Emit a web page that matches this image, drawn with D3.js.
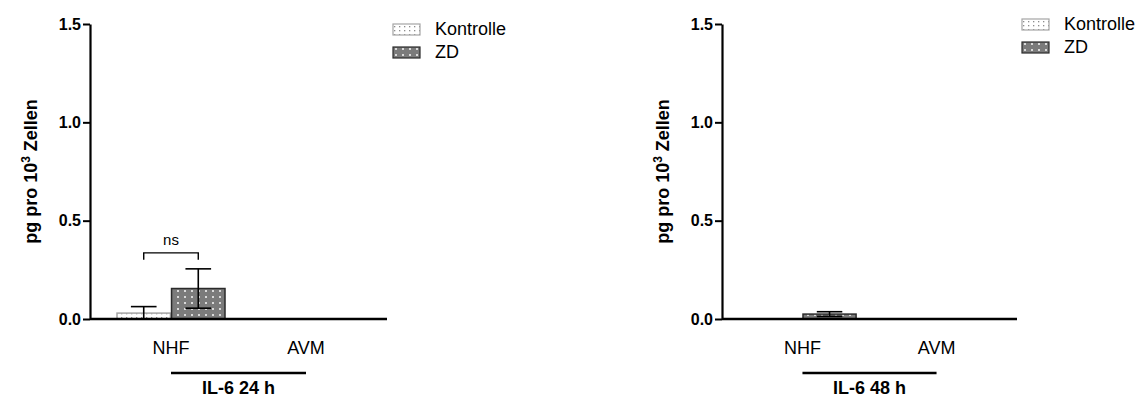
<!DOCTYPE html>
<html>
<head>
<meta charset="utf-8">
<script src="https://cdn.jsdelivr.net/npm/d3@7"></script>
<style>
  html, body { margin: 0; padding: 0; background: #fff; }
  svg { display: block; font-family: "Liberation Sans", Arial, sans-serif; }
</style>
</head>
<body>
<svg id="chart" width="1139" height="400"></svg>
<script>
// ---- data ----
const categories = ["NHF", "AVM"];
const seriesNames = ["Kontrolle", "ZD"];
const panelTitles = ["IL-6 24 h", "IL-6 48 h"];
const yTicks = [0.0, 0.5, 1.0, 1.5];

// IL-6, 24 h (mean and SD per category; null = no data)
const kontrolle24 = [0.03, null];
const kontrolle24Sd = [0.033, null];
const zd24 = [0.155, null];
const zd24Sd = [0.10, null];
const signif24 = ["ns", null];

// IL-6, 48 h
const kontrolle48 = [0.0, null];
const kontrolle48Sd = [0.0, null];
const zd48 = [0.025, null];
const zd48Sd = [0.012, null];
const signif48 = [null, null];

const panelData = [
  { title: panelTitles[0], means: [kontrolle24, zd24], sds: [kontrolle24Sd, zd24Sd], signif: signif24 },
  { title: panelTitles[1], means: [kontrolle48, zd48], sds: [kontrolle48Sd, zd48Sd], signif: signif48 }
];

// ---- layout ----
const layout = [
  { x0: 90, x1: 387, legendX: 393, legendY: 29 },
  { x0: 722, x1: 1017, legendX: 1022, legendY: 24 }
];
const yTop = 24, yBottom = 319;

const svg = d3.select("#chart");
const defs = svg.append("defs");

// fill patterns for the two series
const pk = defs.append("pattern").attr("id", "pat-Kontrolle")
  .attr("patternUnits", "userSpaceOnUse").attr("width", 5).attr("height", 4);
pk.append("rect").attr("width", 5).attr("height", 4).attr("fill", "#ffffff");
pk.append("rect").attr("x", 1).attr("y", 1).attr("width", 1.3).attr("height", 1.3).attr("fill", "#8c8c8c");

const pz = defs.append("pattern").attr("id", "pat-ZD")
  .attr("patternUnits", "userSpaceOnUse").attr("width", 7).attr("height", 6);
pz.append("rect").attr("width", 7).attr("height", 6).attr("fill", "#7b7b7b");
pz.append("rect").attr("x", 2).attr("y", 2).attr("width", 2).attr("height", 2).attr("fill", "#d9d9d9");

const seriesStroke = { Kontrolle: "#a5a5a5", ZD: "#2a2a2a" };

const y = d3.scaleLinear().domain([0, 1.5]).range([yBottom, yTop]);

panelData.forEach((pd, pi) => {
  const L = layout[pi];
  const g = svg.append("g");

  const x = d3.scaleBand().domain(categories).range([L.x0, L.x1])
    .paddingInner(0.2).paddingOuter(0.2);
  const xs = d3.scaleBand().domain(seriesNames).range([0, x.bandwidth()]).paddingInner(0.02);

  // bars
  seriesNames.forEach((s, si) => {
    const rows = categories.map((c, ci) => ({ c, v: pd.means[si][ci], sd: pd.sds[si][ci] }))
      .filter(d => d.v !== null && d.v > 0);
    g.selectAll(null).data(rows).enter().append("rect")
      .attr("x", d => x(d.c) + xs(s))
      .attr("y", d => y(d.v))
      .attr("width", xs.bandwidth())
      .attr("height", d => y(0) - y(d.v))
      .attr("fill", `url(#pat-${s})`)
      .attr("stroke", seriesStroke[s])
      .attr("stroke-width", 1.5);

    // error bars (mean ± SD)
    const eb = g.selectAll(null).data(rows.filter(d => d.sd > 0)).enter().append("g")
      .attr("stroke", "#000").attr("stroke-width", 1.6).attr("fill", "none");
    const cx = d => x(d.c) + xs(s) + xs.bandwidth() / 2;
    const hw = xs.bandwidth() * 0.24;
    eb.append("line").attr("x1", cx).attr("x2", cx)
      .attr("y1", d => y(d.v + d.sd)).attr("y2", d => y(Math.max(0, d.v - d.sd)));
    eb.append("line").attr("x1", d => cx(d) - hw).attr("x2", d => cx(d) + hw)
      .attr("y1", d => y(d.v + d.sd)).attr("y2", d => y(d.v + d.sd));
    eb.filter(d => d.v - d.sd > 0).append("line")
      .attr("x1", d => cx(d) - hw).attr("x2", d => cx(d) + hw)
      .attr("y1", d => y(d.v - d.sd)).attr("y2", d => y(d.v - d.sd));
  });

  // significance brackets
  categories.forEach((c, ci) => {
    const label = pd.signif[ci];
    if (!label) return;
    const tops = seriesNames.map((s, si) => (pd.means[si][ci] || 0) + (pd.sds[si][ci] || 0));
    const yb = y(d3.max(tops)) - 16;
    const xa = x(c) + xs(seriesNames[0]) + xs.bandwidth() / 2;
    const xb = x(c) + xs(seriesNames[1]) + xs.bandwidth() / 2;
    g.append("path")
      .attr("d", `M${xa},${yb + 7}V${yb}H${xb}V${yb + 7}`)
      .attr("fill", "none").attr("stroke", "#000").attr("stroke-width", 1.4);
    g.append("text").attr("x", (xa + xb) / 2).attr("y", yb - 8)
      .attr("text-anchor", "middle").attr("font-size", 15).text(label);
  });

  // y axis
  const yAxis = d3.axisLeft(y).tickValues(yTicks).tickFormat(d3.format(".1f"))
    .tickSizeOuter(0).tickSizeInner(7).tickPadding(2);
  const ya = g.append("g").attr("transform", `translate(${L.x0},0)`).call(yAxis);
  ya.select(".domain").attr("stroke-width", 2.2);
  ya.selectAll(".tick line").attr("stroke-width", 2);
  ya.selectAll(".tick text").attr("font-size", 16).attr("font-weight", "bold")
    .attr("fill", "#000").attr("font-family", "'Liberation Sans', Arial, sans-serif");

  // y axis title
  const yt = g.append("text")
    .attr("transform", `translate(${L.x0 - 53},${(yTop + yBottom) / 2}) rotate(-90)`)
    .attr("text-anchor", "middle").attr("font-size", 18).attr("font-weight", "bold");
  yt.append("tspan").text("pg pro 10");
  yt.append("tspan").attr("font-size", 12).attr("dy", -7).text("3");
  yt.append("tspan").attr("dy", 7).text(" Zellen");

  // x axis
  const xAxis = d3.axisBottom(x).tickSize(0).tickPadding(22);
  const xa = g.append("g").attr("transform", `translate(0,${yBottom})`).call(xAxis);
  xa.select(".domain").attr("stroke-width", 2.6).attr("d", `M${L.x0},0H${L.x1}`);
  xa.selectAll(".tick text").attr("font-size", 18).attr("fill", "#000")
    .attr("font-family", "'Liberation Sans', Arial, sans-serif");

  // group line and title
  const c0 = x(categories[0]) + x.bandwidth() / 2;
  const c1 = x(categories[categories.length - 1]) + x.bandwidth() / 2;
  g.append("line").attr("x1", c0).attr("x2", c1).attr("y1", 373).attr("y2", 373)
    .attr("stroke", "#000").attr("stroke-width", 2.4);
  g.append("text").attr("x", (c0 + c1) / 2).attr("y", 394)
    .attr("text-anchor", "middle").attr("font-size", 18).attr("font-weight", "bold")
    .text(pd.title);

  // legend
  const lg = g.append("g").attr("transform", `translate(${L.legendX},${L.legendY})`);
  seriesNames.forEach((s, si) => {
    const row = lg.append("g").attr("transform", `translate(0,${si * 23})`);
    row.append("rect").attr("x", 0).attr("y", -5).attr("width", 27).attr("height", 11)
      .attr("fill", `url(#pat-${s})`).attr("stroke", seriesStroke[s]).attr("stroke-width", 1.2);
    row.append("text").attr("x", 42).attr("y", 0).attr("dy", "0.35em")
      .attr("font-size", 18).text(s);
  });
});
</script>
</body>
</html>
